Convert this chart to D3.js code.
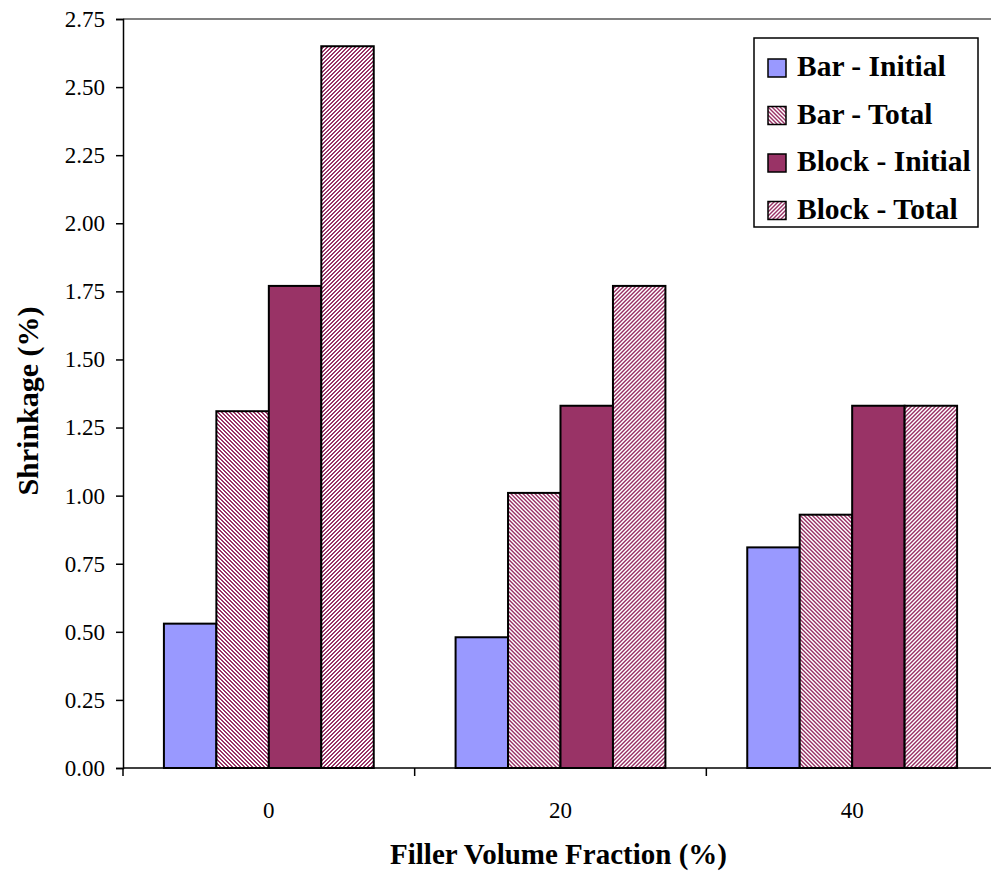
<!DOCTYPE html>
<html>
<head>
<meta charset="utf-8">
<script src="https://cdn.jsdelivr.net/npm/d3@7"></script>
<style>
  html, body { margin: 0; padding: 0; background: #fff; }
  svg { display: block; }
  text { font-family: "Liberation Serif", "DejaVu Serif", serif; }
</style>
</head>
<body>
<svg id="chart" width="991" height="877"></svg>
<script>
// Filler volume fractions (x categories)
const categories = ["0", "20", "40"];
// Series names as shown in the legend
const seriesNames = ["Bar - Initial", "Bar - Total", "Block - Initial", "Block - Total"];
// Shrinkage (%) per series, one value per category
const barInitial   = [0.53, 0.48, 0.81];
const barTotal     = [1.31, 1.01, 0.93];
const blockInitial = [1.77, 1.33, 1.33];
const blockTotal   = [2.65, 1.77, 1.33];
// Y axis tick values
const yTicks = [0, 0.25, 0.5, 0.75, 1.0, 1.25, 1.5, 1.75, 2.0, 2.25, 2.5, 2.75];

const seriesValues = [barInitial, barTotal, blockInitial, blockTotal];

const svg = d3.select("#chart");
const margin = { left: 123, top: 19, right: -7, bottom: 109 };
const W = 991, H = 877;
const x0 = margin.left, x1 = W - margin.right;
const yTop = margin.top, yBot = H - margin.bottom;

// Fill patterns for the hatched series
const defs = svg.append("defs");
function pixelHatch(id, dir) {
  const p = defs.append("pattern")
    .attr("id", id).attr("patternUnits", "userSpaceOnUse")
    .attr("width", 4).attr("height", 4);
  p.append("rect").attr("width", 4).attr("height", 4).attr("fill", "#993366");
  for (let yy = 0; yy < 4; yy++) {
    for (let xx = 0; xx < 4; xx++) {
      const k = dir === "down" ? ((xx - yy) % 4 + 4) % 4 : (xx + yy) % 4;
      if (k === 0 || k === 1) {
        p.append("rect").attr("x", xx).attr("y", yy).attr("width", 1).attr("height", 1)
          .attr("fill", "#ffffff").attr("shape-rendering", "crispEdges");
      }
    }
  }
}
pixelHatch("hatchDown", "down");
pixelHatch("hatchUp", "up");

const fills = ["#9999ff", "url(#hatchDown)", "#993366", "url(#hatchUp)"];

const x = d3.scaleBand().domain(categories).range([x0, x1]).paddingInner(0).paddingOuter(0);
const xs = d3.scaleBand().domain(d3.range(seriesNames.length))
  .range([0, x.bandwidth()]).paddingOuter(0.78).paddingInner(0);
const y = d3.scaleLinear().domain([0, 2.75]).range([yBot, yTop]);

// Plot area top border
svg.append("line")
  .attr("x1", x0).attr("x2", x1).attr("y1", yTop).attr("y2", yTop)
  .attr("stroke", "#808080").attr("stroke-width", 2);

// Bars
const groups = svg.append("g").selectAll("g")
  .data(categories).join("g")
  .attr("transform", d => `translate(${x(d)},0)`);

groups.selectAll("rect")
  .data((c, ci) => seriesValues.map((vals, si) => ({ si, v: vals[ci] })))
  .join("rect")
  .attr("x", d => xs(d.si))
  .attr("y", d => y(d.v))
  .attr("width", xs.bandwidth())
  .attr("height", d => y(0) - y(d.v))
  .attr("fill", d => fills[d.si])
  .attr("stroke", "#000")
  .attr("stroke-width", 2);

// Y axis
const yAxis = svg.append("g")
  .attr("transform", `translate(${x0},0)`)
  .call(d3.axisLeft(y).tickValues(yTicks).tickFormat(d3.format(".2f")).tickSize(7).tickPadding(11));
yAxis.select(".domain").attr("stroke", "#000").attr("stroke-width", 1.5);
yAxis.selectAll(".tick line").attr("stroke", "#000").attr("stroke-width", 1.5);
yAxis.selectAll("text").attr("font-size", 23).attr("fill", "#000")
  .style("font-family", "'Liberation Serif', serif");

// X axis (ticks at category boundaries)
const xAxisG = svg.append("g").attr("transform", `translate(0,${yBot})`);
xAxisG.append("line").attr("x1", x0).attr("x2", x1).attr("y1", 0).attr("y2", 0)
  .attr("stroke", "#000").attr("stroke-width", 1.5);
const boundaries = categories.map(c => x(c)).concat([x(categories[categories.length - 1]) + x.bandwidth()]);
xAxisG.selectAll("line.tk").data(boundaries).join("line").attr("class", "tk")
  .attr("x1", d => d).attr("x2", d => d).attr("y1", 0).attr("y2", 8)
  .attr("stroke", "#000").attr("stroke-width", 1.5);
xAxisG.selectAll("text").data(categories).join("text")
  .attr("x", d => x(d) + x.bandwidth() / 2).attr("y", 50)
  .attr("text-anchor", "middle").attr("font-size", 23).text(d => d);

// Axis titles
svg.append("text")
  .attr("x", (x0 + x1) / 2 - 2).attr("y", 864)
  .attr("text-anchor", "middle").attr("font-size", 29).attr("font-weight", "bold")
  .text("Filler Volume Fraction (%)");
svg.append("text")
  .attr("transform", `translate(38,401) rotate(-90)`)
  .attr("text-anchor", "middle").attr("font-size", 30).attr("font-weight", "bold")
  .text("Shrinkage (%)");

// Legend
const lg = svg.append("g").attr("transform", "translate(754,38)");
lg.append("rect").attr("width", 224).attr("height", 189)
  .attr("fill", "#fff").attr("stroke", "#000").attr("stroke-width", 1.5);
const items = lg.selectAll("g.item").data(seriesNames).join("g").attr("class", "item")
  .attr("transform", (d, i) => `translate(0,${38 + i * 47.5})`);
items.append("rect").attr("x", 14).attr("y", -17).attr("width", 18).attr("height", 18)
  .attr("fill", (d, i) => fills[i]).attr("stroke", "#000").attr("stroke-width", 1.5);
items.append("text").attr("x", 43).attr("y", 0)
  .attr("font-size", 29.5).attr("font-weight", "bold").text(d => d);
</script>
</body>
</html>
